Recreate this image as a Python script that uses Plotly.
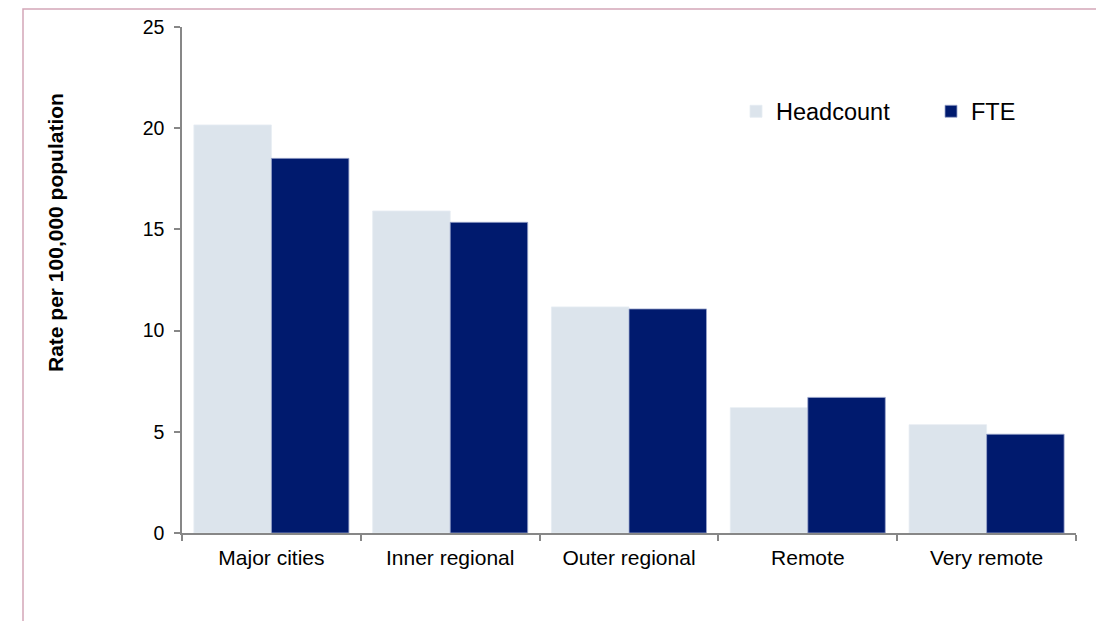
import plotly.graph_objects as go

# Workforce rate by remoteness area
categories = ["Major cities", "Inner regional", "Outer regional", "Remote", "Very remote"]
headcount = [20.16, 15.91, 11.17, 6.19, 5.35]
fte = [18.51, 15.35, 11.07, 6.70, 4.88]
y_ticks = [0, 5, 10, 15, 20, 25]

FONT = "Liberation Sans, Arial, sans-serif"
AXIS_GREY = "#878787"

# plot-area geometry in pixels (used for paper-coordinate placement)
L, R, T, B = 182, 1076, 27, 533
PW, PH = R - L, B - T


def px_x(px):
    return (px - L) / PW


def px_y(py):
    return (B - py) / PH


fig = go.Figure()
fig.add_trace(go.Bar(name="Headcount", x=categories, y=headcount, legend="legend",
                     marker=dict(color="#DCE4EC", line=dict(width=0.8, color="#E6ECF2"))))
fig.add_trace(go.Bar(name="FTE", x=categories, y=fte, legend="legend2",
                     marker=dict(color="#001A6E", line=dict(width=0.8, color="#9AA6CC"))))

legend_common = dict(orientation="h", yanchor="middle", xanchor="left",
                     font=dict(size=23.5, family=FONT, color="black"),
                     bgcolor="rgba(0,0,0,0)", borderwidth=0)

fig.update_layout(
    width=1096, height=621,
    margin=dict(l=L, r=1096 - R, t=T, b=621 - B, autoexpand=False),
    paper_bgcolor="white", plot_bgcolor="white",
    barmode="group", bargap=0.133, bargroupgap=0,
    font=dict(family=FONT, color="black"),
    showlegend=True,
    legend=dict(x=px_x(776 - 40), y=px_y(111.5), **legend_common),
    legend2=dict(x=px_x(971 - 40), y=px_y(111.5), **legend_common),
)

fig.update_xaxes(
    type="category", showline=True, linecolor=AXIS_GREY, linewidth=1.5,
    ticks="outside", tickson="boundaries", ticklen=6, tickcolor=AXIS_GREY, tickwidth=1.5,
    tickfont=dict(size=21, family=FONT), showgrid=False, zeroline=False,
    ticklabelstandoff=5,
)
fig.update_yaxes(
    range=[0, 25], tickvals=y_ticks, showline=True, linecolor=AXIS_GREY, linewidth=1.5,
    ticks="outside", ticklen=6, tickcolor=AXIS_GREY, tickwidth=1.5,
    tickfont=dict(size=19.5, family=FONT), showgrid=False, zeroline=False,
    ticklabelstandoff=6,
)

# Axis title placed beside the value axis
fig.add_annotation(text="<b>Rate per 100,000 population</b>", textangle=-90,
                   xref="paper", yref="paper", x=px_x(55), y=px_y(233),
                   showarrow=False, font=dict(size=21, family=FONT, color="black"),
                   xanchor="center", yanchor="middle")

# Chart frame
fig.add_shape(type="rect", xref="paper", yref="paper",
              x0=px_x(23), x1=px_x(1110), y0=px_y(640), y1=px_y(9),
              line=dict(color="#D3A6B8", width=1.5), fillcolor="rgba(0,0,0,0)", layer="below")

fig.write_html("out.html")
